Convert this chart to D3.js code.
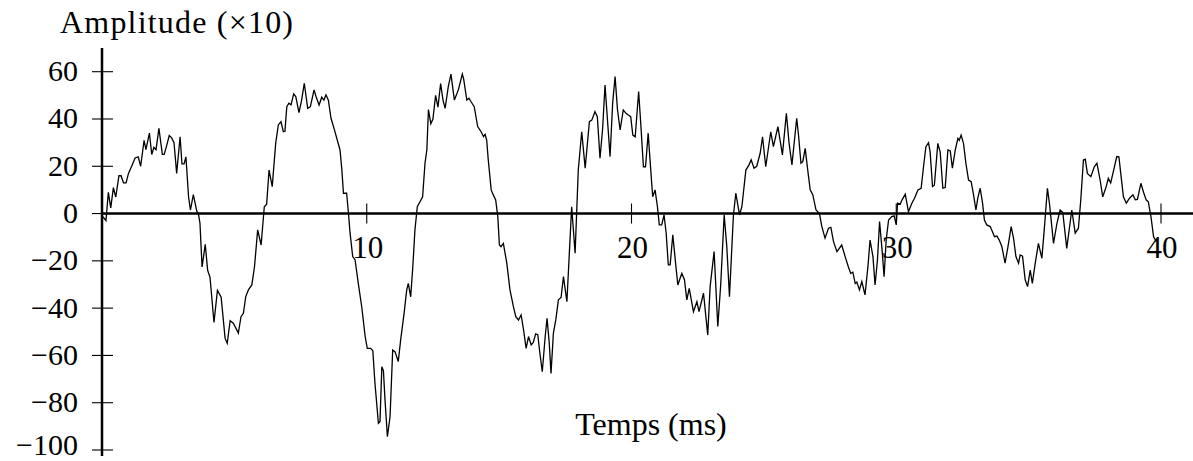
<!DOCTYPE html>
<html>
<head>
<meta charset="utf-8">
<script src="https://cdn.jsdelivr.net/npm/d3@7"></script>
<style>
  html, body { margin: 0; padding: 0; background: #fff; }
  svg { display: block; }
  text { font-family: "Liberation Serif", "Times New Roman", serif; fill: #000; }
</style>
</head>
<body>
<svg id="chart" width="1193" height="461"></svg>
<script>
// Sampled signal: time (ms) and amplitude (x10)
const timeMs = [
  0.00, 0.08, 0.15, 0.24, 0.33, 0.43, 0.52, 0.64, 0.72, 0.81, 0.91, 1.00, 1.12, 1.25, 1.37, 1.46,
  1.59, 1.66, 1.79, 1.88, 1.96, 2.04, 2.15, 2.28, 2.35, 2.44, 2.54, 2.63, 2.72, 2.82, 2.95, 3.02,
  3.10, 3.17, 3.27, 3.34, 3.45, 3.58, 3.64, 3.70, 3.78, 3.90, 3.99, 4.08, 4.23, 4.36, 4.50, 4.65,
  4.73, 4.84, 4.96, 5.09, 5.15, 5.25, 5.34, 5.43, 5.53, 5.66, 5.76, 5.88, 6.01, 6.13, 6.22, 6.31,
  6.43, 6.56, 6.66, 6.76, 6.85, 6.91, 6.98, 7.06, 7.14, 7.24, 7.32, 7.44, 7.54, 7.64, 7.77, 7.87,
  8.01, 8.08, 8.20, 8.30, 8.38, 8.46, 8.55, 8.65, 8.78, 8.99, 9.06, 9.12, 9.24, 9.31, 9.37, 9.47,
  9.56, 9.68, 9.81, 9.94, 10.02, 10.15, 10.23, 10.31, 10.44, 10.50, 10.57, 10.63, 10.69, 10.78, 10.88, 10.98,
  11.07, 11.19, 11.28, 11.41, 11.51, 11.57, 11.66, 11.74, 11.82, 11.91, 12.01, 12.11, 12.20, 12.27, 12.33, 12.42,
  12.50, 12.60, 12.69, 12.79, 12.88, 12.96, 13.08, 13.18, 13.31, 13.46, 13.61, 13.66, 13.78, 13.86, 13.94, 14.06,
  14.19, 14.32, 14.41, 14.47, 14.53, 14.59, 14.70, 14.78, 14.87, 14.95, 15.01, 15.07, 15.16, 15.29, 15.41, 15.54,
  15.63, 15.73, 15.83, 15.92, 16.02, 16.11, 16.21, 16.29, 16.38, 16.46, 16.54, 16.63, 16.74, 16.81, 16.89, 16.96,
  17.05, 17.14, 17.24, 17.34, 17.43, 17.56, 17.74, 17.87, 17.99, 18.12, 18.25, 18.41, 18.50, 18.62, 18.71, 18.81,
  18.91, 19.00, 19.09, 19.19, 19.29, 19.38, 19.47, 19.57, 19.69, 19.80, 19.88, 19.97, 20.05, 20.14, 20.27, 20.35,
  20.45, 20.53, 20.63, 20.70, 20.80, 20.89, 20.98, 21.05, 21.14, 21.23, 21.31, 21.39, 21.46, 21.56, 21.65, 21.75,
  21.90, 22.00, 22.09, 22.18, 22.34, 22.47, 22.55, 22.72, 22.88, 22.97, 23.12, 23.26, 23.37, 23.50, 23.60, 23.70,
  23.85, 23.94, 24.08, 24.17, 24.32, 24.44, 24.52, 24.63, 24.73, 24.86, 24.95, 25.07, 25.26, 25.36, 25.53, 25.70,
  25.85, 25.95, 26.06, 26.24, 26.31, 26.40, 26.47, 26.56, 26.65, 26.75, 26.85, 26.97, 27.10, 27.19, 27.31, 27.44,
  27.53, 27.63, 27.76, 27.94, 28.07, 28.19, 28.28, 28.36, 28.45, 28.51, 28.61, 28.70, 28.82, 28.93, 29.01, 29.12,
  29.20, 29.29, 29.37, 29.47, 29.54, 29.62, 29.71, 29.83, 29.92, 30.00, 30.05, 30.15, 30.22, 30.34, 30.46, 30.59,
  30.69, 30.82, 30.94, 31.03, 31.12, 31.22, 31.28, 31.37, 31.44, 31.57, 31.66, 31.76, 31.85, 31.95, 32.04, 32.12,
  32.23, 32.33, 32.38, 32.45, 32.54, 32.63, 32.73, 32.83, 32.92, 33.01, 33.08, 33.17, 33.26, 33.33, 33.42, 33.55,
  33.63, 33.71, 33.80, 33.89, 33.99, 34.11, 34.22, 34.34, 34.43, 34.52, 34.62, 34.68, 34.77, 34.87, 34.96, 35.06,
  35.14, 35.25, 35.37, 35.50, 35.59, 35.71, 35.79, 35.94, 36.07, 36.19, 36.29, 36.44, 36.54, 36.63, 36.76, 36.88,
  36.97, 37.07, 37.14, 37.22, 37.35, 37.48, 37.58, 37.70, 37.80, 37.93, 38.01, 38.10, 38.23, 38.33, 38.41, 38.48,
  38.58, 38.69, 38.81, 38.94, 39.03, 39.11, 39.24, 39.34, 39.44, 39.52, 39.62, 39.72, 39.82
];

const amplitude = [
  -1, -2, -3, 9, 2.4, 11, 7, 16, 16, 13, 13, 17, 20, 23.5, 24, 20,
  31, 27, 34, 25, 28, 27, 36, 25, 25, 28.6, 33, 32, 30, 17, 32.5, 21,
  21, 24, 7, 1.5, 8, 1, 0, -4, -22.6, -13, -24, -27, -46, -32.5, -35.4, -52.8,
  -54.9, -45.3, -46.4, -49.2, -50.6, -43.6, -42.2, -35.1, -32.3, -30.2, -22.5, -6.9, -13.3, 2.9, 4, 18.4,
  11.4, 29.7, 37.5, 38.9, 34.6, 34.8, 45.2, 46.7, 46, 50.6, 49.5, 42.7, 48, 55.1, 44.5, 45.2,
  52.3, 49.6, 45.9, 49.2, 48, 50.2, 48, 40.3, 35.4, 26.9, 18.4, 8.6, 8.6, 0, -8.3, -18.2,
  -19.6, -29.5, -39.4, -52, -57, -57, -58, -71.8, -88.7, -88, -64.8, -66.5, -78.9, -94.4, -85.9, -57.7,
  -58.5, -62.6, -53.5, -42.2, -32.3, -29.5, -35.2, -22.5, -6.9, 2.9, 5, 7.1, 21.3, 26.9, 44, 38,
  40, 50, 45, 55, 48, 44.5, 53.7, 59, 48, 52.3, 59, 57, 48, 48.8, 47.3, 45.2,
  36.8, 34.6, 32.5, 33.5, 31.1, 22.7, 10, 7.9, 5.8, -1.3, -13.3, -14, -12.6, -21, -32.3, -39.4,
  -43.6, -45, -42.9, -49, -57, -52, -55.6, -54.5, -50.9, -51.2, -59.1, -66.9, -52, -44.3, -54.2, -67.6,
  -50.6, -45, -36.5, -35.5, -26.7, -37.3, 2.9, -16.8, 18.4, 34.6, 19.2, 38.9, 39.5, 43.1, 41, 23.4,
  36, 54.4, 40, 24.1, 47, 57.9, 44, 35.4, 43.8, 42.3, 41.7, 41, 33.2, 32.5, 51.6, 38,
  19.8, 19.8, 34, 22.7, 7.1, 10, 2.9, -4.8, -4.8, -0.6, -8.3, -21.7, -21.7, -9, -19.3, -30.2,
  -25.3, -28, -36.5, -31.6, -41.5, -37.3, -41.5, -33.7, -51.4, -30.9, -16.1, -47.8, -30, -0.6, -14, -35.2,
  -0.6, 8.6, -0.6, 3, 18.4, 20.6, 22.7, 19.2, 20, 25.5, 32.5, 19.8, 34.6, 28.3, 36.8, 24.8,
  42.4, 30, 20.6, 40.3, 33, 21.3, 22, 27.6, 19, 10, 7.9, 1.5, 0, -5.5, -10.4, -6.2,
  -5.8, -11.9, -16.1, -13.3, -18.2, -22.5, -25.3, -24.8, -29.5, -29, -32.3, -28.8, -34.4, -22.5, -11.2, -18.2,
  -30.2, -19.6, -3.4, -16.1, -26.7, -11.2, -2.7, -1.3, -1, -4.8, 4.4, 4, 5.8, 8.2, 0.8, 4.4,
  6.5, 10, 10.7, 19.8, 28.3, 30, 26, 11.4, 12, 29.7, 26, 10.7, 11, 26.9, 26.5, 19.2,
  26.9, 31.8, 31, 33.2, 29.7, 21.3, 14.2, 13.5, 7.9, 1.5, 6.5, 10.7, 4.4, -2.7, -4.8, -5.5,
  -7.6, -9.8, -9.5, -11.2, -14, -21, -14, -5.5, -10.4, -18.2, -21, -17.5, -18, -28, -30.9, -23.9,
  -29.5, -21, -12.6, -18.9, -6.9, 10.7, 4, -12.6, -4.1, 1.5, 0.5, -14.7, -6.2, 1.5, -8.3, -6.2,
  5.8, 22.7, 23, 17, 15.6, 19.8, 21.3, 14.2, 7.1, 11.4, 14.9, 13, 19.2, 24.1, 24, 17,
  7.1, 4.4, 6.5, 7.9, 5.8, 6, 12.8, 9, 5.8, 5, -1.3, -9.8, -11.9
];

const xTicks = [10, 20, 30, 40];
const yTicks = [60, 40, 20, 0, -20, -40, -60, -80, -100];
const xTitle = "Temps (ms)";
const yTitle = "Amplitude (\u00d710)";

const svg = d3.select("#chart");
const W = 1193;

const x = d3.scaleLinear().domain([0, 40]).range([102, 1161]);
const y = d3.scaleLinear().domain([-100, 60]).range([450, 71.7]);

const fmt = v => (v < 0 ? "\u2212" + Math.abs(v) : String(v));

// y ticks (crossing the axis)
svg.append("g").selectAll("line").data(yTicks).join("line")
  .attr("x1", x(0) - 10).attr("x2", x(0) + 11)
  .attr("y1", d => y(d)).attr("y2", d => y(d))
  .attr("stroke", "#000").attr("stroke-width", 1.1);

svg.append("g").selectAll("text").data(yTicks).join("text")
  .attr("x", 78).attr("y", d => Math.min(y(d) + 9.5, 455))
  .attr("text-anchor", "end")
  .attr("font-size", 30)
  .text(fmt);

// x ticks (crossing the axis)
svg.append("g").selectAll("line").data(xTicks).join("line")
  .attr("x1", d => x(d)).attr("x2", d => x(d))
  .attr("y1", y(0) - 10).attr("y2", y(0) + 10)
  .attr("stroke", "#000").attr("stroke-width", 1.1);

svg.append("g").selectAll("text").data(xTicks).join("text")
  .attr("x", d => x(d) + 1).attr("y", 258)
  .attr("text-anchor", "middle")
  .attr("font-size", 31)
  .text(fmt);

// axis lines
svg.append("line")
  .attr("x1", x(0)).attr("x2", x(0))
  .attr("y1", 48).attr("y2", 456)
  .attr("stroke", "#000").attr("stroke-width", 2.5);
svg.append("line")
  .attr("x1", x(0)).attr("x2", W)
  .attr("y1", y(0)).attr("y2", y(0))
  .attr("stroke", "#000").attr("stroke-width", 2.5);

// signal
const pts = timeMs.map((t, i) => [t, amplitude[i]]);
svg.append("path")
  .datum(pts)
  .attr("fill", "none")
  .attr("stroke", "#000")
  .attr("stroke-width", 1.3)
  .attr("stroke-linejoin", "miter")
  .attr("d", d3.line().x(d => x(d[0])).y(d => y(d[1])));

// titles
svg.append("text")
  .attr("x", 60).attr("y", 33)
  .attr("font-size", 32)
  .attr("textLength", 233)
  .attr("lengthAdjust", "spacing")
  .text(yTitle);

svg.append("text")
  .attr("x", 651).attr("y", 435)
  .attr("text-anchor", "middle")
  .attr("font-size", 32)
  .text(xTitle);
</script>
</body>
</html>
